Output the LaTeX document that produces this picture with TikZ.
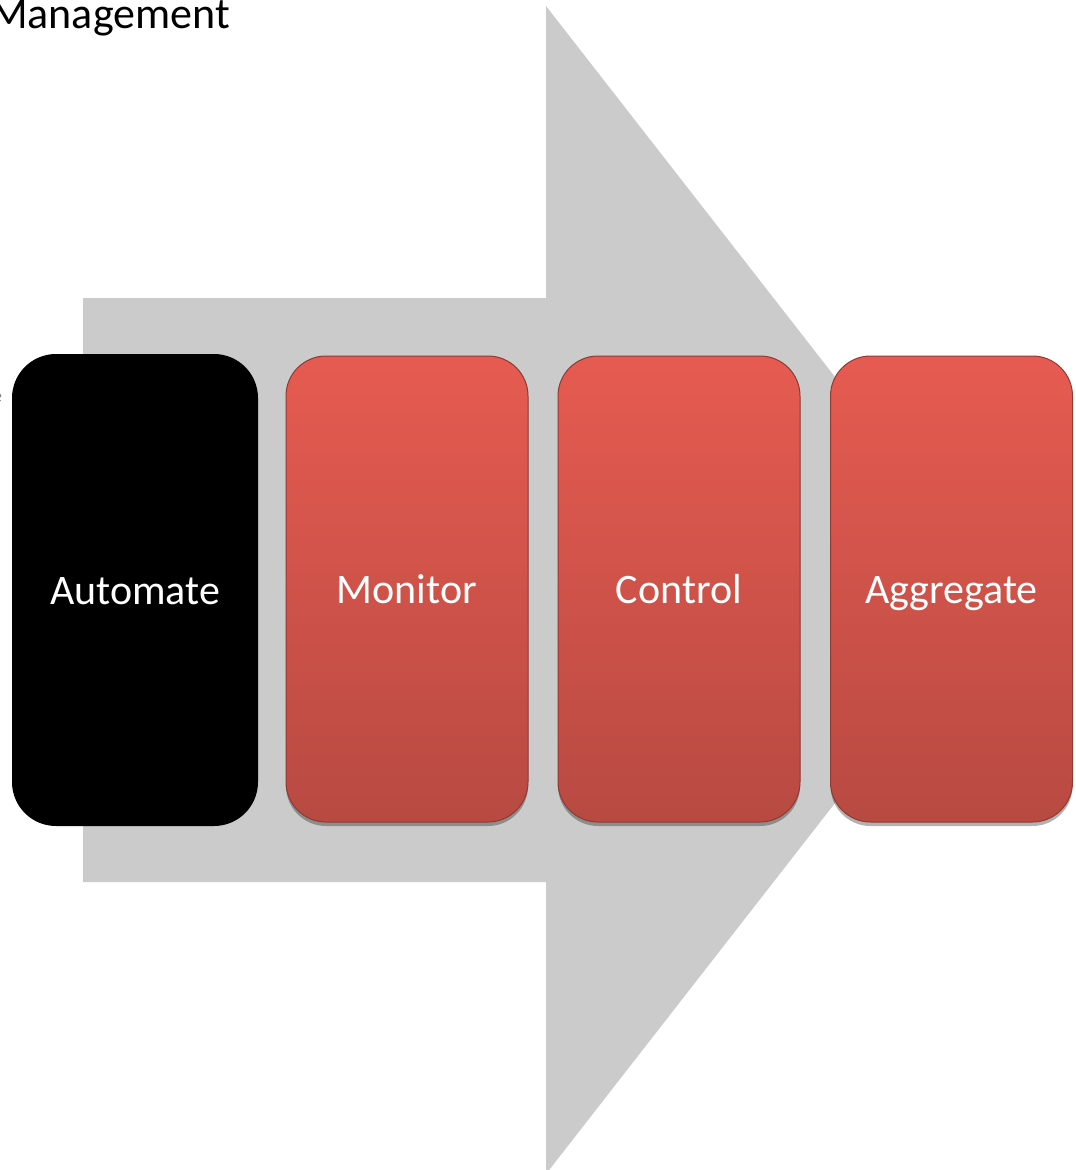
\documentclass[tikz,border=0pt]{standalone}
\usepackage{fontspec}
\setmainfont{Carlito}
\usetikzlibrary{shadows}
\definecolor{arrowgray}{HTML}{CBCBCB}
\definecolor{redtop}{HTML}{E65B51}
\definecolor{redbot}{HTML}{B84A42}
\definecolor{redline}{HTML}{8F3A33}
\tikzset{
  labelfont/.style={font=\fontsize{42}{46}\selectfont, text height=32pt, text depth=3pt},
  stagebox/.style={rounded corners=40pt, minimum width=242pt, minimum height=466pt,
    top color=redtop, bottom color=redbot, draw=redline, line width=1pt,
    text=white, labelfont,
    drop shadow={shadow xshift=0pt, shadow yshift=-4pt, opacity=0.3, fill=black}},
  blackbox/.style={rounded corners=44pt, minimum width=246pt, minimum height=472pt,
    fill=black, text=white, labelfont},
}
\begin{document}
\begin{tikzpicture}[x=1pt,y=-1pt]
\useasboundingbox (0,0) rectangle (1076,1170);
\fill[arrowgray] (83,298) -- (546,298) -- (546,6) -- (1001,590) -- (546,1174) -- (546,882) -- (83,882) -- cycle;
\node[anchor=base west, font=\fontsize{44}{48}\selectfont, inner sep=0pt] (title) at (-10,28) {Management};
\node[anchor=base west, font=\fontsize{20}{22}\selectfont, text=gray, inner sep=0pt] (frag) at (-8,402) {e};
\node[blackbox] (automate) at (135,590) {Automate};
\node[stagebox] (monitor) at (407,589) {Monitor};
\node[stagebox] (control) at (679,589) {Control};
\node[stagebox] (aggregate) at (951.5,589) {Aggregate};
\end{tikzpicture}
\end{document}
